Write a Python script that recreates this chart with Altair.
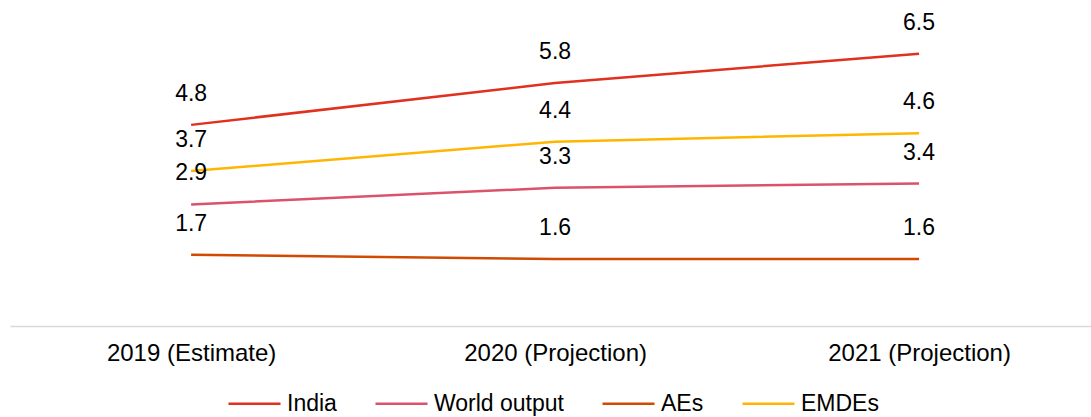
import altair as alt
import pandas as pd

years = ["2019 (Estimate)", "2020 (Projection)", "2021 (Projection)"]
series = ["India", "World output", "AEs", "EMDEs"]
india = [4.8, 5.8, 6.5]
world = [2.9, 3.3, 3.4]
aes = [1.7, 1.6, 1.6]
emdes = [3.7, 4.4, 4.6]
colors = ["#E0301E", "#DB536A", "#D04A02", "#FFB600"]

rows = []
for name, vals in zip(series, [india, world, aes, emdes]):
    for y, v in zip(years, vals):
        rows.append({"year": y, "series": name, "value": v})
df = pd.DataFrame(rows)

x = alt.X("year:N", sort=years,
          scale=alt.Scale(type="point", padding=0.485, align=0.513),
          axis=alt.Axis(title=None, labelAngle=0, ticks=False, domainColor="#D9D9D9",
                        domainWidth=1.5, labelFontSize=24, labelColor="#000000",
                        labelFont="Liberation Sans", labelPadding=15, labelLimit=400,
                        grid=False))
y = alt.Y("value:Q", scale=alt.Scale(domain=[0, 7.78], nice=False, zero=True), axis=None)

lines = alt.Chart(df).mark_line(strokeWidth=2.5).encode(
    x=x, y=y,
    color=alt.Color("series:N", sort=series,
                    scale=alt.Scale(domain=series, range=colors),
                    legend=alt.Legend(title=None, orient="none", legendX=217, legendY=376,
                                      direction="horizontal", columns=4,
                                      symbolType="stroke", symbolSize=2704, symbolStrokeWidth=2.5,
                                      labelFontSize=23, labelFont="Liberation Sans",
                                      labelColor="#000000", labelOffset=5, columnPadding=33,
                                      labelLimit=300)),
)

labels = alt.Chart(df).mark_text(dy=-31, fontSize=23, font="Liberation Sans",
                                 color="#000000", baseline="middle").encode(
    x=x, y=y, text=alt.Text("value:Q", format=".1f"))

chart = (lines + labels).properties(
    width=1081, height=326,
    autosize=alt.AutoSizeParams(type="none"),
    padding={"left": 10, "top": 0, "right": 0, "bottom": 91},
).configure_view(stroke=None)

chart.save("out.html", embed_options={"renderer": "svg", "actions": False})
